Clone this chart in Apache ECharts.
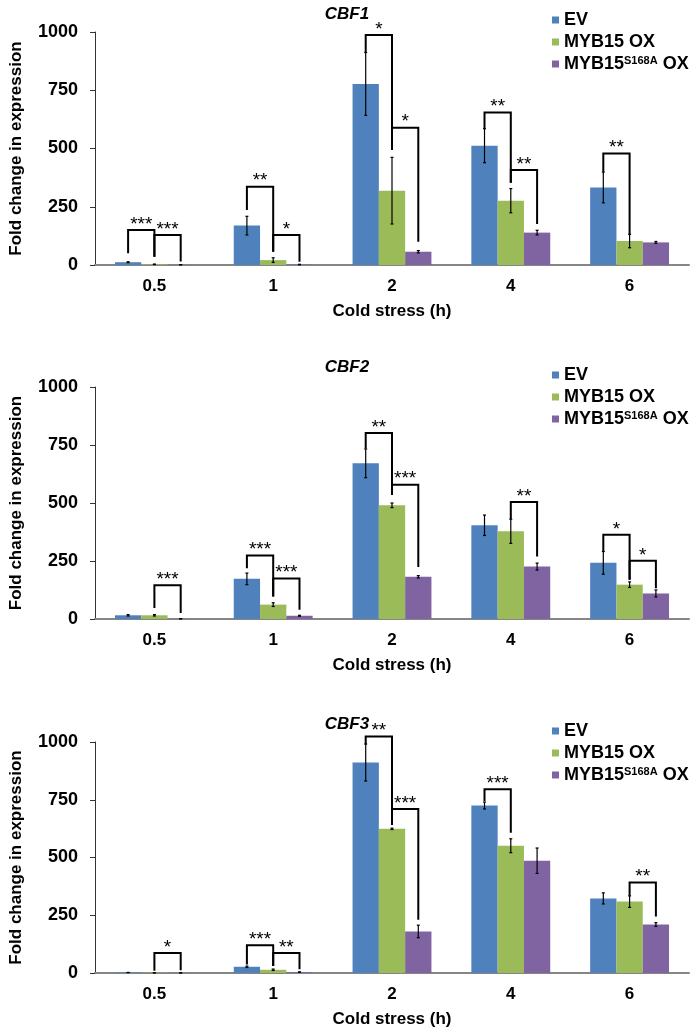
<!DOCTYPE html>
<html>
<head>
<meta charset="utf-8">
<script src="https://cdn.jsdelivr.net/npm/echarts@6/dist/echarts.min.js"></script>
<style>
html,body{margin:0;padding:0;background:#fff;}
#chart{width:692px;height:1029px;}
</style>
</head>
<body>
<div id="chart"></div>
<script>
// ---------- data ----------
const categories = ['0.5', '1', '2', '4', '6'];
const seriesNames = ['EV', 'MYB15 OX', 'MYB15S168A OX'];
const panelTitles = ['CBF1', 'CBF2', 'CBF3'];
const yTicks = [0, 250, 500, 750, 1000];

const cbf1EV = [12, 169, 777, 512, 333];
const cbf1EVErr = [2, 40, 135, 73, 66];
const cbf1OX = [3, 21, 319, 276, 103];
const cbf1OXErr = [1, 10, 143, 52, 29];
const cbf1SA = [1, 2, 57, 139, 97];
const cbf1SAErr = [0.5, 1, 5, 10, 4];

const cbf2EV = [16, 173, 671, 404, 242];
const cbf2EVErr = [3, 25, 62, 44, 49];
const cbf2OX = [16, 62, 490, 378, 148];
const cbf2OXErr = [3, 8, 10, 52, 12];
const cbf2SA = [1, 14, 182, 226, 110];
const cbf2SAErr = [0.5, 2, 5, 15, 15];

const cbf3EV = [2, 27, 911, 725, 323];
const cbf3EVErr = [0.5, 3, 80, 15, 24];
const cbf3OX = [1, 14, 624, 551, 309];
const cbf3OXErr = [0.5, 3, 3, 30, 25];
const cbf3SA = [0.5, 4, 180, 486, 210];
const cbf3SAErr = [0.2, 1, 27, 55, 8];

// significance brackets: [category, leftBar, rightBar, top, leftFoot, rightFoot, stars]
const cbf1Sig = [
  [0, 0, 1, 150, 50, 35, '***'], [0, 1, 2, 129, 35, 15, '***'],
  [1, 0, 1, 336, 236, 57, '**'], [1, 1, 2, 129, 57, 14, '*'],
  [2, 0, 1, 987, 913, 494, '*'], [2, 1, 2, 589, 494, 100, '*'],
  [3, 0, 1, 654, 587, 353, '**'], [3, 1, 2, 408, 353, 176, '**'],
  [4, 0, 1, 479, 400, 129, '**']
];
const cbf2Sig = [
  [0, 1, 2, 145, 47, 26, '***'],
  [1, 0, 1, 274, 219, 97, '***'], [1, 1, 2, 175, 97, 40, '***'],
  [2, 0, 1, 802, 735, 534, '**'], [2, 1, 2, 579, 534, 224, '***'],
  [3, 1, 2, 504, 431, 269, '**'],
  [4, 0, 1, 363, 291, 169, '*'], [4, 1, 2, 251, 169, 133, '*']
];
const cbf3Sig = [
  [0, 1, 2, 87, 10, 12, '*'],
  [1, 0, 1, 120, 37, 30, '***'], [1, 1, 2, 87, 30, 16, '**'],
  [2, 0, 1, 1024, 991, 641, '**'], [2, 1, 2, 710, 641, 230, '***'],
  [3, 0, 1, 795, 745, 607, '***'],
  [4, 1, 2, 392, 335, 245, '**']
];

// ---------- layout / style ----------
const colors = ['#4F81BD', '#9BBB59', '#8064A2'];
const FONT = 'Liberation Sans, Arial, sans-serif';
const CAT_GAP = 0.336;
const grids = [
  {left: 80, top: 32, width: 609, height: 233},
  {left: 80, top: 387, width: 609, height: 232},
  {left: 80, top: 742, width: 609, height: 233}
];
const titleY = [10, 363, 720];
const legendTop = [6, 361, 717];

const panels = [
  {means: [cbf1EV, cbf1OX, cbf1SA], errs: [cbf1EVErr, cbf1OXErr, cbf1SAErr], sig: cbf1Sig},
  {means: [cbf2EV, cbf2OX, cbf2SA], errs: [cbf2EVErr, cbf2OXErr, cbf2SAErr], sig: cbf2Sig},
  {means: [cbf3EV, cbf3OX, cbf3SA], errs: [cbf3EVErr, cbf3OXErr, cbf3SAErr], sig: cbf3Sig}
];

function barX(api, cat, bi) {
  const c = api.coord([cat, 0]);
  const band = api.size([1, 0])[0];
  const total = band * (1 - CAT_GAP);
  const bw = total / 3;
  return c[0] - total / 2 + bw * (bi + 0.5);
}

function errRender(params, api) {
  const cat = api.value(0), bi = api.value(1), v = api.value(2), e = api.value(3);
  const x = barX(api, cat, bi);
  const yHi = api.coord([cat, v + e])[1];
  const yLo = api.coord([cat, Math.max(v - e, 0)])[1];
  const st = {stroke: '#000', lineWidth: 1.2};
  return {type: 'group', children: [
    {type: 'line', shape: {x1: x, y1: yHi, x2: x, y2: yLo}, style: st},
    {type: 'line', shape: {x1: x - 1.5, y1: yHi, x2: x + 1.5, y2: yHi}, style: st},
    {type: 'line', shape: {x1: x - 1.5, y1: yLo, x2: x + 1.5, y2: yLo}, style: st}
  ]};
}

function makeSigRender(sig) {
  return function (params, api) {
    const s = sig[params.dataIndex];
    const cat = s[0];
    const xl = barX(api, cat, s[1]);
    const xr = barX(api, cat, s[2]);
    const yt = api.coord([cat, s[3]])[1];
    const yl = api.coord([cat, s[4]])[1];
    const yr = api.coord([cat, s[5]])[1];
    return {type: 'group', children: [
      {type: 'polyline', shape: {points: [[xl, yl], [xl, yt], [xr, yt], [xr, yr]]},
       style: {stroke: '#000', lineWidth: 2, fill: null}},
      {type: 'text', x: (xl + xr) / 2, y: yt + 4,
       style: {text: s[6], fill: '#000', font: 'normal 19px ' + FONT, align: 'center', verticalAlign: 'bottom'}}
    ]};
  };
}

const option = {
  animation: false,
  backgroundColor: '#fff',
  title: panelTitles.map((t, i) => ({
    text: t, left: 342, top: titleY[i] - 9, textAlign: 'center',
    textStyle: {fontFamily: FONT, fontSize: 17, fontWeight: 'bold', fontStyle: 'italic', color: '#000'}
  })),
  legend: legendTop.map(t => ({
    data: seriesNames, orient: 'vertical', left: 547, top: t,
    itemWidth: 7, itemHeight: 7, itemGap: 4, icon: 'rect',
    formatter: n => n === 'MYB15S168A OX' ? '{b|MYB15}{s|S168A}{b| OX}' : '{b|' + n + '}',
    textStyle: {color: '#000', fontFamily: FONT, fontSize: 18, fontWeight: 'bold', lineHeight: 18,
      rich: {
        b: {fontFamily: FONT, fontSize: 18, fontWeight: 'bold', color: '#000', lineHeight: 18},
        s: {fontFamily: FONT, fontSize: 11, fontWeight: 'bold', color: '#000', verticalAlign: 'top'}
      }}
  })),
  grid: grids,
  xAxis: grids.map((g, i) => ({
    type: 'category', gridIndex: i, data: categories,
    axisTick: {show: false},
    axisLine: {lineStyle: {color: '#868686', width: 2}},
    axisLabel: {color: '#000', fontFamily: FONT, fontSize: 17, fontWeight: 'bold', margin: 13},
    name: 'Cold stress (h)', nameLocation: 'middle', nameGap: 38,
    nameTextStyle: {color: '#000', fontFamily: FONT, fontSize: 17, fontWeight: 'bold'}
  })),
  yAxis: grids.map((g, i) => ({
    type: 'value', gridIndex: i, min: 0, max: 1000, interval: 250,
    splitLine: {show: false},
    axisLine: {show: true, lineStyle: {color: '#333', width: 1}},
    axisTick: {show: true, length: 5, lineStyle: {color: '#333'}},
    axisLabel: {color: '#000', fontFamily: FONT, fontSize: 18, fontWeight: 'bold', margin: 17,
      formatter: v => yTicks.indexOf(v) >= 0 ? String(v) : ''},
    name: 'Fold change in expression', nameLocation: 'middle', nameGap: 70,
    nameTextStyle: {color: '#000', fontFamily: FONT, fontSize: 17, fontWeight: 'bold'}
  })),
  series: []
};

panels.forEach((p, pi) => {
  seriesNames.forEach((n, si) => {
    option.series.push({
      type: 'bar', name: n, xAxisIndex: pi, yAxisIndex: pi,
      data: p.means[si], barGap: '0%', barCategoryGap: (CAT_GAP * 100) + '%',
      itemStyle: {color: colors[si]}, silent: true
    });
  });
  const errData = [];
  seriesNames.forEach((n, si) => {
    p.means[si].forEach((v, ci) => errData.push([ci, si, v, p.errs[si][ci]]));
  });
  option.series.push({
    type: 'custom', xAxisIndex: pi, yAxisIndex: pi, renderItem: errRender,
    data: errData, encode: {x: 0, y: 2}, z: 5, silent: true
  });
  option.series.push({
    type: 'custom', xAxisIndex: pi, yAxisIndex: pi, renderItem: makeSigRender(p.sig),
    data: p.sig.map(s => [s[0], s[3]]), encode: {x: 0, y: 1}, z: 6, silent: true, clip: false
  });
});

const chart = echarts.init(document.getElementById('chart'), null, {renderer: 'canvas'});
chart.setOption(option);
</script>
</body>
</html>
